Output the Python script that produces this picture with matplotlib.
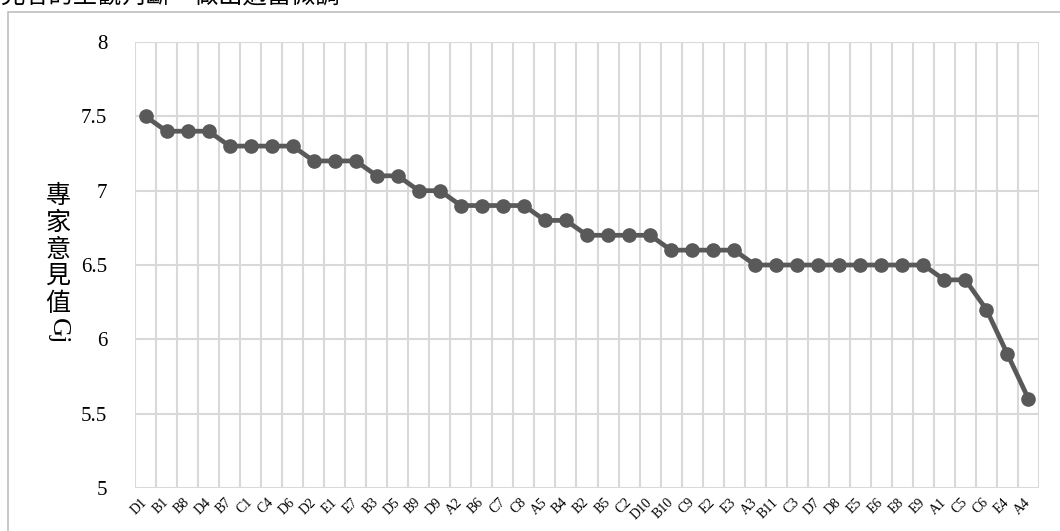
import numpy as np
import matplotlib
matplotlib.use("Agg")
import matplotlib.pyplot as plt
from matplotlib.patches import Rectangle

# dati
categorie = ["D1", "B1", "B8", "D4", "B7", "C1", "C4", "D6", "D2", "E1", "E7",
             "B3", "D5", "B9", "D9", "A2", "B6", "C7", "C8", "A5", "B4", "B2",
             "B5", "C2", "D10", "B10", "C9", "E2", "E3", "A3", "B11", "C3", "D7",
             "D8", "E5", "E6", "E8", "E9", "A1", "C5", "C6", "E4", "A4"]
valori = [7.5, 7.4, 7.4, 7.4, 7.3, 7.3, 7.3, 7.3, 7.2, 7.2, 7.2,
          7.1, 7.1, 7.0, 7.0, 6.9, 6.9, 6.9, 6.9, 6.8, 6.8, 6.7,
          6.7, 6.7, 6.7, 6.6, 6.6, 6.6, 6.6, 6.5, 6.5, 6.5, 6.5,
          6.5, 6.5, 6.5, 6.5, 6.5, 6.4, 6.4, 6.2, 5.9, 5.6]
y_ticks = [5, 5.5, 6, 6.5, 7, 7.5, 8]
y_tick_labels = ["5", "5.5", "6", "6.5", "7", "7.5", "8"]
titolo = "見者的主觀判斷，做出適當微調"
etichetta_y = "專家意見值"

FONT = ["Liberation Serif", "Noto Sans CJK TC"]
GRIGIO = "#d9d9d9"
LINEA = "#595959"

W, H = 1060, 531
fig = plt.figure(figsize=(W / 100, H / 100), dpi=100)

# cornice del grafico (continua oltre il bordo destro)
fig.patches.append(Rectangle((8 / W, -0.05), 1.0, 1.05 - 12 / H,
                             transform=fig.transFigure, fill=False,
                             edgecolor="#bfbfbf", linewidth=1.2))

ax = fig.add_axes([135 / W, 1 - 488 / H, 904 / W, 446 / H])
x = np.arange(len(categorie))
ax.plot(x, valori, color=LINEA, linewidth=3.4, marker="o", markersize=9.5,
        zorder=3, clip_on=False)

ax.set_xlim(-0.5, len(categorie) - 0.5)
ax.set_ylim(5, 8)
ax.set_xticks(x)
ax.set_xticklabels(categorie, rotation=45, ha="right", va="center",
                   rotation_mode="anchor", fontsize=10, family=FONT)
ax.set_xticks(np.arange(len(categorie) + 1) - 0.5, minor=True)
ax.set_yticks(y_ticks)
ax.set_yticklabels(y_tick_labels, fontsize=15, family=FONT)
ax.tick_params(axis="x", which="both", length=0, pad=9)
ax.tick_params(axis="y", length=0, pad=20)
ax.grid(axis="x", which="minor", color=GRIGIO, linewidth=1.5)
ax.grid(axis="y", which="major", color=GRIGIO, linewidth=1.5)
for s in ax.spines.values():
    s.set_visible(False)

# etichetta asse y in verticale (stile Excel)
for i, ch in enumerate(etichetta_y):
    fig.text(58 / W, 1 - (196 + i * 27) / H, ch, ha="center", va="center",
             fontsize=18, family=FONT)
fig.text(58 / W, 1 - 331 / H, "Gj", ha="center", va="center",
         rotation=-90, fontsize=19, family=FONT)

# titolo tagliato in alto
fig.text(0, 1 + 3 / H, titolo, ha="left", va="center", fontsize=17.5, family=FONT)

fig.savefig("out.png", dpi=100)
